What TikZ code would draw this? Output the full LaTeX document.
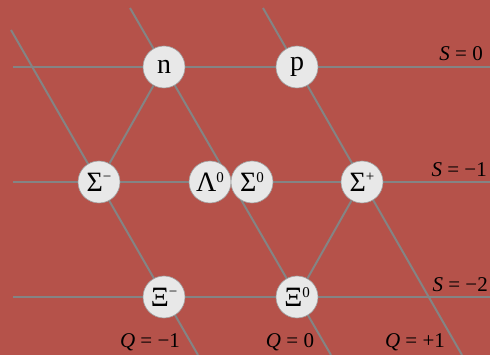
\documentclass[tikz,border=0pt]{standalone}
\usepackage{fontspec}
\setmainfont{Liberation Serif}
\definecolor{bg}{HTML}{B5524A}
\definecolor{grid}{HTML}{848484}
\definecolor{ball}{HTML}{E8E8E8}
\definecolor{ballrim}{HTML}{A0A0A0}
\newcommand{\sps}[1]{\raisebox{9.5pt}{\fontsize{15}{15}\selectfont #1}}
\begin{document}
\begin{tikzpicture}[x=1pt,y=-1pt,
  gridline/.style={draw=grid,line width=2pt},
  particle/.style={circle,fill=ball,draw=ballrim,line width=0.6pt,minimum size=42pt,inner sep=0pt,font=\fontsize{28}{28}\selectfont},
  lbl/.style={font=\fontsize{21}{21}\selectfont,inner sep=0pt,text=black}]
\fill[bg] (0,0) rectangle (490,355);
\useasboundingbox (0,0) rectangle (490,355);
% S lines
\coordinate (sL0) at (13,67);  \coordinate (sR0) at (490,67);
\coordinate (sL1) at (13,182); \coordinate (sR1) at (490,182);
\coordinate (sL2) at (13,297); \coordinate (sR2) at (490,297);
% Q lines
\coordinate (qa1) at (11,30);  \coordinate (qb1) at (198,355);
\coordinate (qa0) at (130,8);  \coordinate (qb0) at (331,355);
\coordinate (qap) at (263,8);  \coordinate (qbp) at (462,355);
\draw[gridline] (sL0) -- (sR0);
\draw[gridline] (sL1) -- (sR1);
\draw[gridline] (sL2) -- (sR2);
\draw[gridline] (qa1) -- (qb1);
\draw[gridline] (qa0) -- (qb0);
\draw[gridline] (qap) -- (qbp);
% particles
\node[particle] (n) at (164,67) {n};
\node[particle] (p) at (297,67) {p};
\node[particle] (sm) at (99,182) {Σ\sps{−}};
\node[particle] (l0) at (210,182) {Λ\sps{0}};
\node[particle] (s0) at (252,182) {Σ\sps{0}};
\node[particle] (sp) at (362,182) {Σ\sps{+}};
\node[particle] (xm) at (164,297) {Ξ\sps{−}};
\node[particle] (x0) at (297,297) {Ξ\sps{0}};
% hexagon edges not on grid lines
\draw[gridline] (n) -- (sm);
\draw[gridline] (sp) -- (x0);
% labels
\node[lbl,anchor=base east] (ls0) at (483,61) {\textit{S} = 0};
\node[lbl,anchor=base east] (ls1) at (487,177) {\textit{S} = −1};
\node[lbl,anchor=base east] (ls2) at (488,292) {\textit{S} = −2};
\node[lbl,anchor=base] (lq1) at (150,348) {\textit{Q} = −1};
\node[lbl,anchor=base] (lq0) at (290,348) {\textit{Q} = 0};
\node[lbl,anchor=base] (lqp) at (415,348) {\textit{Q} = +1};
\end{tikzpicture}
\end{document}
